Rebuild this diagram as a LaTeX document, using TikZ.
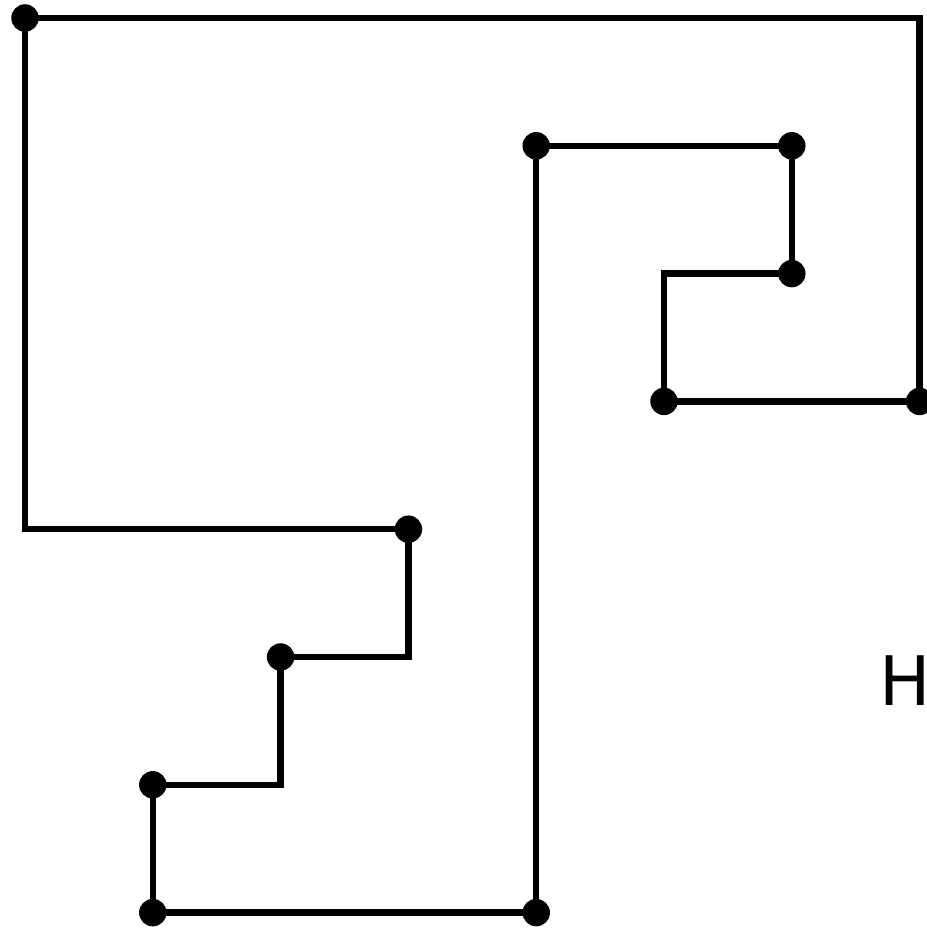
\documentclass[tikz,border=0pt]{standalone}
\usepackage{fontspec}
\setmainfont{DejaVu Sans}
\usetikzlibrary{positioning}
\tikzset{
  every picture/.style={line width=1.45pt},
  trail/.style={draw=black, line width=1.45pt, line join=miter},
  dot/.style={circle, fill=black, inner sep=0pt, minimum size=0.215cm},
  tag/.style={font=\fontsize{15.2}{18}\selectfont, inner sep=0pt},
}

\begin{document}
\begin{tikzpicture}
  \useasboundingbox (-0.1956,-7.1205) rectangle (7.050,0.1408);
  % corners of the walk (grid step 1)
  \coordinate (a) at (0,0);
  \coordinate (b) at (7,0);
  \coordinate (c) at (7,-3);
  \coordinate (d) at (5,-3);
  \coordinate (e) at (5,-2);
  \coordinate (f) at (6,-2);
  \coordinate (g) at (6,-1);
  \coordinate (h) at (4,-1);
  \coordinate (i) at (4,-7);
  \coordinate (j) at (1,-7);
  \coordinate (k) at (1,-6);
  \coordinate (l) at (2,-6);
  \coordinate (m) at (2,-5);
  \coordinate (n) at (3,-5);
  \coordinate (o) at (3,-4);
  \coordinate (p) at (0,-4);
  % closed walk
  \draw[trail] (a) -- (b) -- (c) -- (d) -- (e) -- (f) -- (g) -- (h) -- (i)
    -- (j) -- (k) -- (l) -- (m) -- (n) -- (o) -- (p) -- cycle;
  % marked vertices
  \foreach \v in {a,c,d,f,g,h,i,j,k,m,o}
    \node[dot] at (\v) {};
  \node[tag] (lbl) at (6.886,-5.188) {H};
\end{tikzpicture}
\end{document}
